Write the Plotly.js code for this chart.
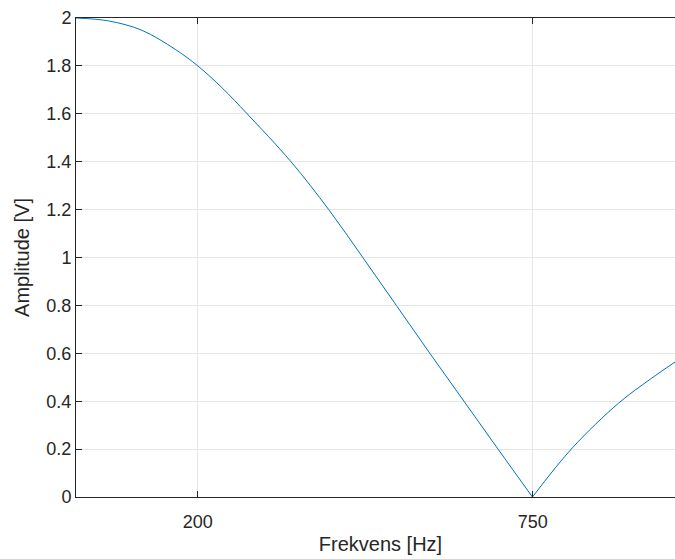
<!DOCTYPE html>
<html>
<head>
<meta charset="utf-8">
<script src="https://cdn.plot.ly/plotly-3.0.1.min.js"></script>
<style>
html, body { margin: 0; padding: 0; overflow: hidden; background: #ffffff; }
#chart { width: 685px; height: 559px; }
</style>
</head>
<body>
<div id="chart"></div>
<script>
// Values
const leftFreq  = [0, 53, 108, 163, 200, 240, 281, 353, 415, 471, 526, 581, 637, 693, 749.5];
const leftAmp   = [2.0, 1.988, 1.949, 1.869, 1.8, 1.708, 1.6, 1.4, 1.2, 1.0, 0.8, 0.6, 0.4, 0.2, 0.0];
const rightFreq = [749.5, 815, 891, 943, 985];
const rightAmp  = [0.0, 0.205, 0.392, 0.492, 0.566];
const xTicks = [200, 750];
const xTickLabels = ['200', '750'];

const lineColor = '#0072BD';
const fontFamily = '"Liberation Sans", Arial, Helvetica, sans-serif';
const axisColor = '#262626';
const gridColor = '#e6e6e6';

const traces = [
  { x: leftFreq, y: leftAmp, type: 'scatter', mode: 'lines',
    line: { color: lineColor, width: 1, shape: 'spline', smoothing: 1 }, hoverinfo: 'skip' },
  { x: rightFreq, y: rightAmp, type: 'scatter', mode: 'lines',
    line: { color: lineColor, width: 1, shape: 'spline', smoothing: 1 }, hoverinfo: 'skip' }
];

const axisCommon = {
  showline: true, linecolor: axisColor, linewidth: 1, mirror: 'ticks',
  ticks: 'inside', ticklen: 6, tickwidth: 1, tickcolor: axisColor,
  showgrid: true, gridcolor: gridColor, gridwidth: 1, zeroline: false,
  tickfont: { family: fontFamily, size: 18, color: axisColor }
};

const layout = {
  width: 685, height: 559,
  margin: { l: 76, r: 0, t: 18, b: 62 },
  paper_bgcolor: '#ffffff', plot_bgcolor: '#ffffff',
  showlegend: false,
  font: { family: fontFamily, color: axisColor },
  xaxis: Object.assign({}, axisCommon, {
    range: [0, 1000], tickmode: 'array', tickvals: xTicks, ticktext: xTickLabels,
    ticklabelstandoff: 8,
    title: { text: 'Frekvens [Hz]', font: { family: fontFamily, size: 20, color: axisColor }, standoff: 6 }
  }),
  yaxis: Object.assign({}, axisCommon, {
    range: [0, 2], tickmode: 'linear', tick0: 0, dtick: 0.2,
    title: { text: 'Amplitude [V]', font: { family: fontFamily, size: 20, color: axisColor }, standoff: 11 }
  })
};

Plotly.newPlot('chart', traces, layout, { staticPlot: true, displayModeBar: false });
</script>
</body>
</html>
